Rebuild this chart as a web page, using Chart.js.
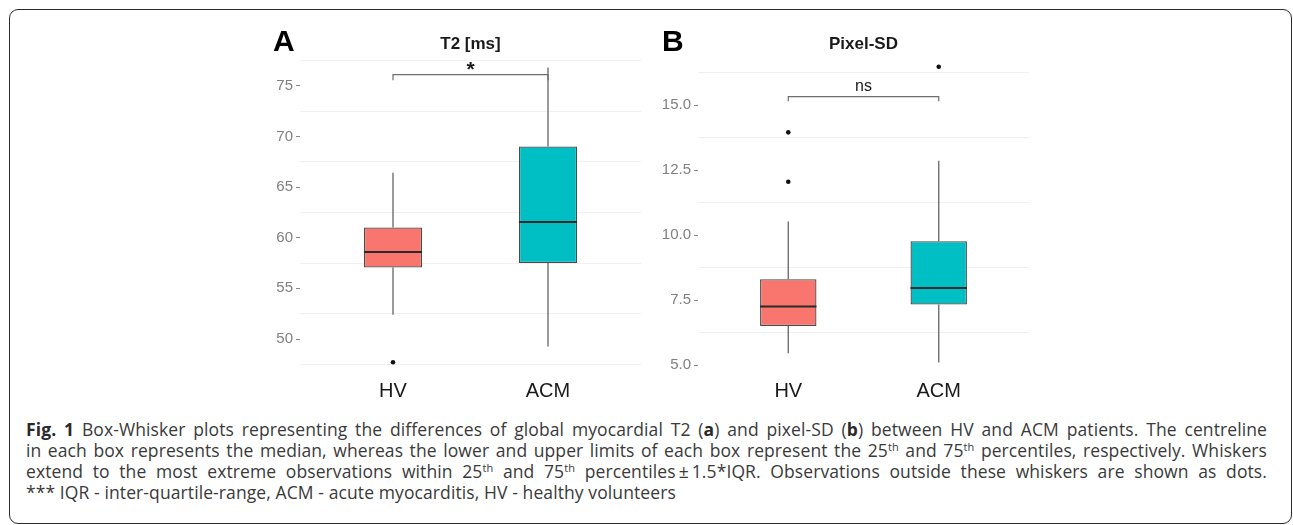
<!DOCTYPE html>
<html>
<head>
<meta charset="utf-8">
<script src="https://cdn.jsdelivr.net/npm/chart.js@4.4.0/dist/chart.umd.min.js"></script>
<style>
  body { margin: 0; background: #fff; width: 1293px; height: 525px; overflow: hidden; position: relative;
         font-family: "Liberation Sans", Arial, sans-serif; }
  .frame { position: absolute; left: 9px; top: 9px; width: 1283px; height: 515px;
           border: 1.6px solid #2b2b2b; border-radius: 9px; box-sizing: border-box; }
  canvas { position: absolute; top: 0; }
  .letter { position: absolute; font-weight: bold; font-size: 30px; line-height: 30px; color: #000; top: 26px; }
  .title { position: absolute; font-weight: bold; font-size: 17px; line-height: 17px; color: #1a1a1a;
           top: 35px; transform: translateX(-50%); white-space: nowrap; }
  .note { position: absolute; transform: translate(-50%, -50%); color: #1a1a1a; line-height: 1; white-space: nowrap; }
  .caption { position: absolute; left: 26px; top: 419px; width: 1241px; font-family: "Open Sans", sans-serif;
             font-size: 17.5px; letter-spacing: 0.1px; line-height: 21px; color: #3a3a3a; }
  .caption div { text-align: justify; text-align-last: justify; }
  .caption div.last { text-align-last: left; }
  .caption b { color: #2a2a2a; }
  .caption sup { font-size: 11px; line-height: 0; vertical-align: 6px; }
</style>
</head>
<body>
<div class="frame"></div>

<canvas id="chartA" width="450" height="410" style="left:200px"></canvas>
<canvas id="chartB" width="430" height="410" style="left:620px"></canvas>

<div class="letter" style="left:273px">A</div>
<div class="letter" style="left:662px">B</div>
<div class="title" id="titleA">T2 [ms]</div>
<div class="title" id="titleB">Pixel-SD</div>
<div class="note" id="noteA" style="font-size:21px;font-weight:bold">*</div>
<div class="note" id="noteB" style="font-size:16px">ns</div>

<div class="caption">
  <div><b>Fig. 1</b> Box-Whisker plots representing the differences of global myocardial T2 (<b>a</b>) and pixel-SD (<b>b</b>) between HV and ACM patients. The centreline</div>
  <div>in each box represents the median, whereas the lower and upper limits of each box represent the 25<sup>th</sup> and 75<sup>th</sup> percentiles, respectively. Whiskers</div>
  <div>extend to the most extreme observations within 25<sup>th</sup> and 75<sup>th</sup> percentiles&thinsp;±&thinsp;1.5*IQR. Observations outside these whiskers are shown as dots.</div>
  <div class="last">*** IQR - inter-quartile-range, ACM - acute myocarditis, HV - healthy volunteers</div>
</div>

<script>
const groups = ['HV', 'ACM'];

// Panel A - T2 [ms]
const t2Low      = [52.4, 49.25];
const t2Q1       = [57.05, 57.5];
const t2Median   = [58.6, 61.55];
const t2Q3       = [61.0, 69.0];
const t2High     = [66.4, 76.8];
const t2Outliers = [[47.7], []];
const t2Ticks    = [50, 55, 60, 65, 70, 75];
const t2Minor    = [47.5, 52.5, 57.5, 62.5, 67.5, 72.5, 77.5];
const t2Range    = [46.25, 78.33];
const t2Bracket  = [75.55, 76.1];   // foot, top
const t2Sig      = ['*', 76.75];

// Panel B - Pixel-SD
const sdLow      = [5.45, 5.1];
const sdQ1       = [6.5, 7.33];
const sdMedian   = [7.25, 7.96];
const sdQ3       = [8.3, 9.76];
const sdHigh     = [10.52, 12.86];
const sdOutliers = [[12.05, 13.95], [16.47]];
const sdTicks    = [5.0, 7.5, 10.0, 12.5, 15.0];
const sdMinor    = [6.25, 8.75, 11.25, 13.75, 16.25];
const sdRange    = [4.54, 17.04];
const sdBracket  = [15.15, 15.32];
const sdSig      = ['ns', 15.73];

const boxColors = ['#F8766D', '#00BFC4'];
const boxWidth = 0.375;

function makePanel(id, p) {
    const half = boxWidth / 2;
    const whiskers = [], medians = [], dots = [];
    groups.forEach((g, i) => {
        const x = i + 1;
        whiskers.push({x: x, y: p.q3[i]}, {x: x, y: p.high[i]}, {x: x, y: null},
                      {x: x, y: p.q1[i]}, {x: x, y: p.low[i]}, {x: x, y: null});
        medians.push({x: x - half, y: p.median[i]}, {x: x + half, y: p.median[i]}, {x: x, y: null});
        p.outliers[i].forEach(v => dots.push({x: x, y: v}));
    });
    const bracket = [
        {x: 1, y: p.bracket[0]}, {x: 1, y: p.bracket[1]},
        {x: 2, y: p.bracket[1]}, {x: 2, y: p.bracket[0]}
    ];
    const allTicks = p.ticks.concat(p.minor).sort((a, b) => a - b);
    const isMajor = v => p.ticks.some(t => Math.abs(t - v) < 1e-6);

    const chart = new Chart(document.getElementById(id).getContext('2d'), {
        type: 'bar',
        data: {
            datasets: [
                {
                    type: 'line', data: medians, borderColor: '#2a2a2a', borderWidth: 2,
                    pointRadius: 0, spanGaps: false, order: 0
                },
                {
                    type: 'scatter', data: dots, pointRadius: 2.3, pointBackgroundColor: '#111',
                    pointBorderWidth: 0, order: 1
                },
                {
                    type: 'line', data: bracket, borderColor: '#6e6e6e', borderWidth: 1.2,
                    pointRadius: 0, order: 1
                },
                {
                    type: 'bar',
                    data: groups.map((g, i) => ({x: i + 1, y: [p.q1[i], p.q3[i]]})),
                    backgroundColor: boxColors, borderColor: '#4a4a4a', borderWidth: 1.3,
                    borderSkipped: false, barPercentage: boxWidth, categoryPercentage: 1, order: 2
                },
                {
                    type: 'line', data: whiskers, borderColor: '#707070', borderWidth: 1.4,
                    pointRadius: 0, spanGaps: false, order: 3
                }
            ]
        },
        options: {
            responsive: false,
            animation: false,
            layout: { padding: { left: 0, right: p.padRight, top: 52, bottom: 0 } },
            plugins: { legend: { display: false }, tooltip: { enabled: false } },
            scales: {
                x: {
                    type: 'linear', min: 0.4, max: 2.6, offset: false,
                    afterBuildTicks: s => { s.ticks = groups.map((g, i) => ({value: i + 1})); },
                    afterFit: s => { s.height = 33; },
                    ticks: {
                        autoSkip: false, maxRotation: 0, padding: 2,
                        callback: (v, i) => groups[i],
                        font: { family: 'Liberation Sans', size: 20 }, color: '#1a1a1a'
                    },
                    grid: { display: false, drawTicks: false },
                    border: { display: false }
                },
                y: {
                    type: 'linear', min: p.range[0], max: p.range[1],
                    afterBuildTicks: s => { s.ticks = allTicks.map(v => ({value: v})); },
                    afterFit: s => { s.width = p.axisWidth; },
                    ticks: {
                        autoSkip: false, padding: 3,
                        callback: v => isMajor(v) ? v.toFixed(p.decimals) : '',
                        font: { family: 'Liberation Sans', size: 15 }, color: '#808080'
                    },
                    grid: {
                        color: c => (c.tick && isMajor(c.tick.value)) ? 'rgba(0,0,0,0)' : '#f0f0f0',
                        tickColor: c => (c.tick && isMajor(c.tick.value)) ? '#8a8a8a' : 'rgba(0,0,0,0)',
                        tickLength: 4, lineWidth: 1
                    },
                    border: { display: false }
                }
            }
        }
    });

    const left = parseFloat(document.getElementById(id).style.left);
    const area = chart.chartArea;
    const title = document.getElementById(p.titleId);
    title.style.left = (left + (area.left + area.right) / 2) + 'px';
    const note = document.getElementById(p.noteId);
    note.textContent = p.sig[0];
    note.style.left = (left + chart.scales.x.getPixelForValue(1.5)) + 'px';
    note.style.top = (chart.scales.y.getPixelForValue(p.sig[1])) + 'px';
    return chart;
}

makePanel('chartA', {
    low: t2Low, q1: t2Q1, median: t2Median, q3: t2Q3, high: t2High, outliers: t2Outliers,
    ticks: t2Ticks, minor: t2Minor, range: t2Range, bracket: t2Bracket, sig: t2Sig,
    decimals: 0, axisWidth: 100, padRight: 9, titleId: 'titleA', noteId: 'noteA'
});
makePanel('chartB', {
    low: sdLow, q1: sdQ1, median: sdMedian, q3: sdQ3, high: sdHigh, outliers: sdOutliers,
    ticks: sdTicks, minor: sdMinor, range: sdRange, bracket: sdBracket, sig: sdSig,
    decimals: 1, axisWidth: 78, padRight: 21, titleId: 'titleB', noteId: 'noteB'
});
</script>
</body>
</html>
